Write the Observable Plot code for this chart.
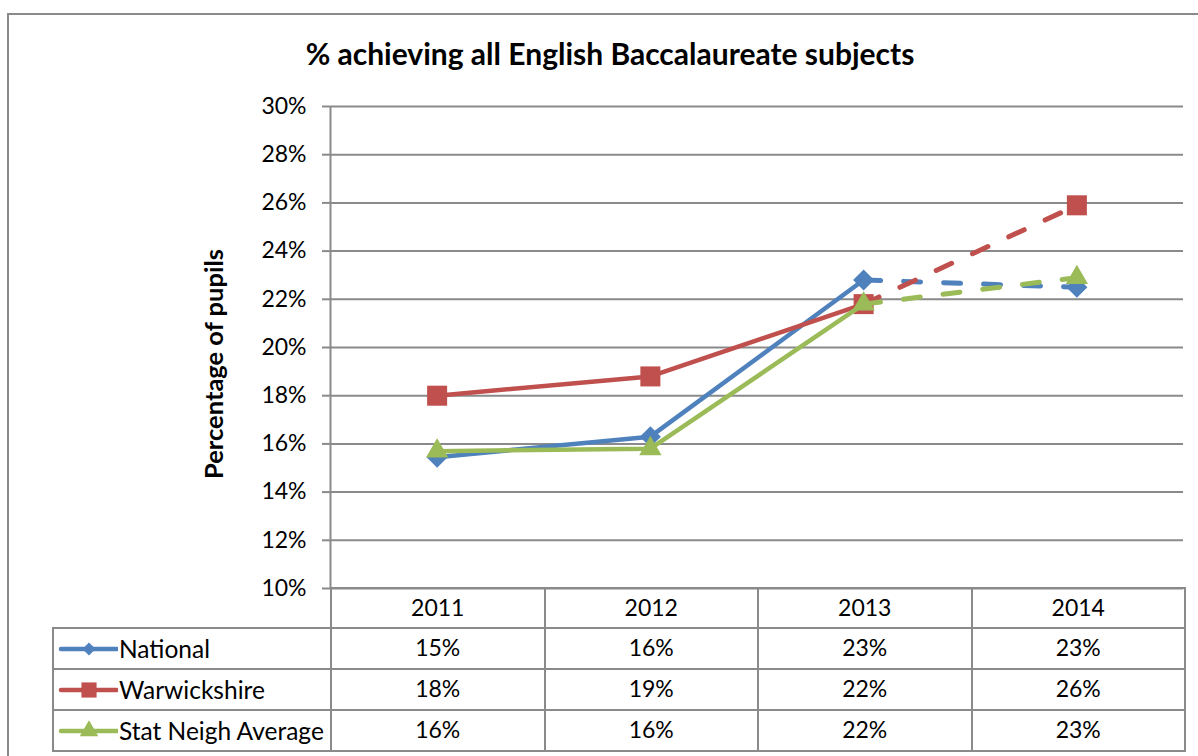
<!DOCTYPE html>
<html>
<head>
<meta charset="utf-8">
<script src="https://cdn.jsdelivr.net/npm/d3@7"></script>
<script src="https://cdn.jsdelivr.net/npm/@observablehq/plot@0.6"></script>
<style>
  html, body { margin: 0; padding: 0; background: #fff; }
  #wrap { position: relative; width: 1198px; height: 756px; overflow: hidden; background: #fff; font-family: Lato, "Open Sans", sans-serif; color: #000; }
  #frame { position: absolute; left: 7px; top: 13px; width: 1300px; height: 900px; border: 2px solid #8a8a8a; box-sizing: border-box; }
  #title { position: absolute; left: 10px; width: 1200px; top: 36px; text-align: center; font-weight: bold; font-size: 30px; line-height: 34px; }
  #chart { position: absolute; left: 0; top: 0; }
  #ylabel { position: absolute; left: 213px; top: 364px; transform: translate(-50%, -50%) rotate(-90deg); white-space: nowrap; font-weight: bold; font-size: 25.5px; }
  #tbl { position: absolute; left: 52px; top: 587px; border-collapse: collapse; table-layout: fixed; width: 1132px; font-size: 23px; }
  #tbl td { border: 2px solid #8a8a8a; padding: 0 0 3px 0; text-align: center; vertical-align: middle; white-space: nowrap; }
  #tbl tr.hdr td { height: 35px; }
  #tbl tr.row td { height: 36px; }
  #tbl td.blank { border-top: none; border-left: none; }
  #tbl td.name { text-align: left; font-size: 24.5px; }
  #tbl td.name svg { vertical-align: middle; margin-left: 4px; margin-right: 1px; }
  #tbl td.name span { vertical-align: middle; }
</style>
</head>
<body>
<div id="wrap">
  <div id="frame"></div>
  <div id="chart"></div>
  <div id="title"></div>
  <div id="ylabel"></div>
  <table id="tbl"></table>
</div>
<script>
// ---- data ----
const years = [2011, 2012, 2013, 2014];
const seriesNames = ["National", "Warwickshire", "Stat Neigh Average"];
const national = [15.45, 16.3, 22.8, 22.5];
const warwickshire = [18.0, 18.8, 21.8, 25.9];
const statNeigh = [15.7, 15.8, 21.8, 22.9];
const yTicks = [10, 12, 14, 16, 18, 20, 22, 24, 26, 28, 30];
const titleText = "% achieving all English Baccalaureate subjects";
const yLabelText = "Percentage of pupils";
const colors = ["#4F81BD", "#C0504D", "#9BBB59"];
const symbols = ["diamond2", "square", "triangle"];
const symbolR = [9.5, 11.3, 8.3];
const lastActualYear = 2013;

const seriesValues = [national, warwickshire, statNeigh];
const rows = [];
seriesNames.forEach((s, i) => years.forEach((y, j) => rows.push({series: s, year: y, value: seriesValues[i][j]})));

document.getElementById("title").textContent = titleText;
document.getElementById("ylabel").textContent = yLabelText;

const gridColor = "#8a8a8a";
const marks = [
  Plot.ruleY(yTicks, {stroke: gridColor, strokeWidth: 2}),
  Plot.axisY(yTicks, {anchor: "left", tickSize: 8, tickPadding: 16, tickFormat: d => d + "%", label: null, stroke: gridColor, strokeWidth: 2, fill: "#000", fontSize: 23, strokeOpacity: 1}),
  Plot.ruleX([years[0] - 0.5], {stroke: gridColor, strokeWidth: 2})
];
seriesNames.forEach((s, i) => {
  const d = rows.filter(r => r.series === s);
  marks.push(Plot.line(d.filter(r => r.year <= lastActualYear), {x: "year", y: "value", stroke: colors[i], strokeWidth: 4.5, strokeLinejoin: "round"}));
  marks.push(Plot.line(d.filter(r => r.year >= lastActualYear), {x: "year", y: "value", stroke: colors[i], strokeWidth: 5, strokeDasharray: "17,23", strokeLinecap: "round"}));
  marks.push(Plot.dot(d, {x: "year", y: "value", symbol: symbols[i], r: symbolR[i], fill: colors[i], stroke: "none"}));
});

const chart = Plot.plot({
  width: 1198, height: 590,
  marginLeft: 330, marginRight: 15, marginTop: 106, marginBottom: 2,
  style: {background: "transparent", fontFamily: "Lato, sans-serif", overflow: "visible"},
  x: {domain: [years[0] - 0.5, years[years.length - 1] + 0.5], axis: null},
  y: {domain: [yTicks[0], yTicks[yTicks.length - 1]], axis: null},
  marks
});
document.getElementById("chart").appendChild(chart);

// ---- data table ----
const tbl = d3.select("#tbl");
const cg = tbl.append("colgroup");
cg.append("col").style("width", "278px");
years.forEach(() => cg.append("col").style("width", "213.5px"));
const hdr = tbl.append("tr").attr("class", "hdr");
hdr.append("td").attr("class", "blank");
years.forEach(y => hdr.append("td").text(y));
const symMap = {diamond2: d3.symbolDiamond2, square: d3.symbolSquare, triangle: d3.symbolTriangle};
const legendSize = [110, 230, 150];
seriesNames.forEach((s, i) => {
  const tr = tbl.append("tr").attr("class", "row");
  const td = tr.append("td").attr("class", "name");
  const svg = td.append("svg").attr("width", 60).attr("height", 22);
  svg.append("line").attr("x1", 3).attr("x2", 59).attr("y1", 11).attr("y2", 11).attr("stroke", colors[i]).attr("stroke-width", 4.5).attr("stroke-linecap", "round");
  svg.append("path").attr("transform", "translate(31,11)").attr("d", d3.symbol(symMap[symbols[i]], legendSize[i])()).attr("fill", colors[i]);
  td.append("span").text(s);
  seriesValues[i].forEach(v => tr.append("td").text(Math.round(v) + "%"));
});
</script>
</body>
</html>
